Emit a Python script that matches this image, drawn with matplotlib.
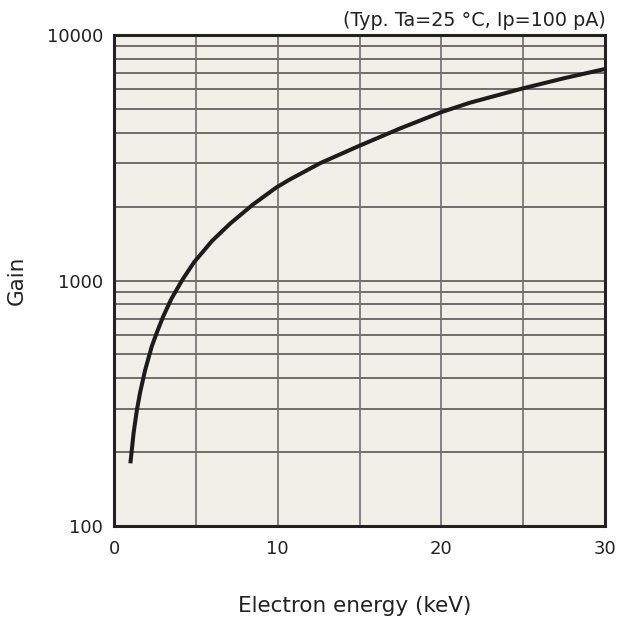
import matplotlib
matplotlib.use("Agg")
import matplotlib.pyplot as plt
from matplotlib.ticker import FixedLocator, NullFormatter

# Data
energy_kev = [1.0, 1.2, 1.4, 1.6, 1.9, 2.3, 2.6, 3.0, 3.5, 4.2, 4.9, 6.0, 7.1, 8.5,
              9.9, 10.7, 12.6, 15.0, 17.5, 20.0, 21.75, 25.0, 27.5, 30.0]
gain = [180, 240, 297, 351, 431, 537, 610, 712, 841, 1012, 1189, 1452, 1706, 2042,
        2388, 2570, 3006, 3540, 4168, 4850, 5300, 6066, 6668, 7270]

x_ticks = [0, 10, 20, 30]
x_grid = [5, 10, 15, 20, 25]
y_ticks = [100, 1000, 10000]
y_tick_labels = ["100", "1000", "10000"]
y_grid = [200, 300, 400, 500, 600, 700, 800, 900, 1000,
          2000, 3000, 4000, 5000, 6000, 7000, 8000, 9000]
note = "(Typ. Ta=25 °C, Ip=100 pA)"

plt.rcParams['font.family'] = ['DejaVu Sans']
fig = plt.figure(figsize=(6.19, 6.21), dpi=100)
ax = fig.add_axes([114/619, 1-526/621, (605-114)/619, (526-35)/621])
ax.set_facecolor('#f1f0e8')
ax.set_yscale('log')
ax.set_xlim(0, 30)
ax.set_ylim(100, 10000)

for yv in y_grid:
    ax.axhline(yv, color='#4a4a4a', lw=1.1, zorder=1)
for xv in x_grid:
    ax.axvline(xv, color='#6e6e6e', lw=1.2, zorder=1)

ax.plot(energy_kev, gain, color='#1c1c1c', lw=2.9, zorder=3,
        solid_capstyle='butt', solid_joinstyle='round', antialiased=True)

ax.set_xticks(x_ticks)
ax.yaxis.set_major_locator(FixedLocator(y_ticks))
ax.yaxis.set_minor_locator(FixedLocator([]))
ax.yaxis.set_minor_formatter(NullFormatter())
ax.set_yticklabels(y_tick_labels)
ax.tick_params(axis='both', which='both', length=0, labelsize=13, colors='#222222')
ax.tick_params(axis='x', pad=10)
ax.tick_params(axis='y', pad=8)

for s in ax.spines.values():
    s.set_color('#222222')
    s.set_linewidth(2.2)
    s.set_zorder(4)

ax.set_xlabel('Electron energy (keV)', fontsize=15.5, color='#222222')
ax.set_ylabel('Gain', fontsize=15.5, color='#222222')
ax.xaxis.label.set_va('center')
ax.yaxis.label.set_va('center')
ax.xaxis.set_label_coords((355-114)/491, (526-606)/491)
ax.yaxis.set_label_coords((17-114)/491, (526-280)/491)
fig.text(606/619, 1-20/621, note, ha='right', va='center', fontsize=13.8, color='#222222')

fig.savefig('out.png', dpi=100)
